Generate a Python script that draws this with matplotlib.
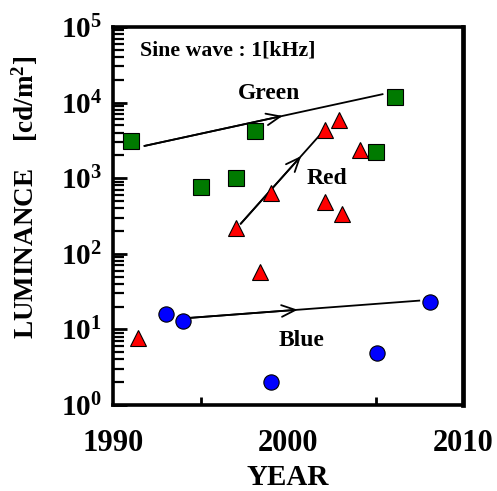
import math
import matplotlib
matplotlib.use("Agg")
import matplotlib.pyplot as plt
from matplotlib.ticker import LogLocator, NullFormatter, FixedLocator

plt.rcParams['font.family'] = ['Liberation Serif', 'DejaVu Serif']
plt.rcParams['font.weight'] = 'bold'
plt.rcParams['mathtext.fontset'] = 'custom'
plt.rcParams['mathtext.rm'] = 'Liberation Serif:bold'
plt.rcParams['mathtext.bf'] = 'Liberation Serif:bold'
plt.rcParams['mathtext.it'] = 'Liberation Serif:bold:italic'

# Data
green_year = [1991.0, 1995.0, 1997.0, 1998.1, 2005.0, 2006.1]
green_lum = [3100, 760, 1000, 4200, 2200, 11800]

red_year = [1991.4, 1997.0, 1999.0, 1998.4, 2002.1, 2002.9, 2004.1, 2002.1, 2003.1]
red_lum = [7.7, 220, 630, 57, 4350, 5900, 2350, 490, 335]

blue_year = [1993.0, 1994.0, 2008.1, 2005.1, 1999.0]
blue_lum = [15.9, 13.0, 23.0, 4.9, 2.0]

# Trend arrows: (start_year, start_lum, end_year, end_lum), arrowhead fraction
green_trend = (1991.8, 2670, 2005.4, 12900)
red_trend = (1997.3, 250, 2001.9, 3900)
blue_trend = (1994.4, 14.2, 2007.5, 24.0)
arrow_frac = [0.58, 0.75, 0.47]

x_ticks = [1990, 2000, 2010]
x_minor = [1995, 2005]
y_ticks = [1, 10, 100, 1000, 10000, 100000]
y_ticklabels = [r'$\mathbf{10^{%d}}$' % i for i in range(6)]

fig = plt.figure(figsize=(4.97, 4.91), dpi=100)
ax = fig.add_axes([0.2274, 0.1752, 0.7042, 0.7699])
ax.set_yscale('log')
ax.set_xlim(1990, 2010)
ax.set_ylim(1, 1e5)

# Trend lines with arrowheads along the line
for (x0, y0, x1, y1), f in zip([green_trend, red_trend, blue_trend], arrow_frac):
    ax.plot([x0, x1], [y0, y1], color='black', lw=1.3, zorder=2)
    xm = x0 + (x1 - x0) * f
    ym = 10 ** (math.log10(y0) + (math.log10(y1) - math.log10(y0)) * f)
    ax.annotate('', xy=(xm, ym), xytext=(x0, y0),
                arrowprops=dict(arrowstyle='->,head_length=1.0,head_width=0.42', color='black', lw=1.3,
                                shrinkA=0, shrinkB=0), zorder=2)

ax.plot(green_year, green_lum, ls='none', marker='s', ms=11, mfc='#007a00', mec='black', mew=0.8, zorder=3)
ax.plot(red_year, red_lum, ls='none', marker='^', ms=12, mfc='#ff0000', mec='black', mew=0.8, zorder=3)
ax.plot(blue_year, blue_lum, ls='none', marker='o', ms=11, mfc='#0000ff', mec='black', mew=0.8, zorder=3)

ax.text(1991.55, 4.9e4, 'Sine wave : 1[kHz]', fontsize=15.7, fontweight='bold', va='center', ha='left')
ax.text(1998.9, 1.3e4, 'Green', fontsize=17, fontweight='bold', va='center', ha='center')
ax.text(2002.2, 1.0e3, 'Red', fontsize=17, fontweight='bold', va='center', ha='center')
ax.text(2000.8, 7.2, 'Blue', fontsize=17, fontweight='bold', va='center', ha='center')

ax.set_xticks(x_ticks)
ax.set_xticklabels([str(t) for t in x_ticks], fontsize=22, fontweight='bold')
ax.xaxis.set_minor_locator(FixedLocator(x_minor))
ax.set_yticks(y_ticks)
ax.set_yticklabels(y_ticklabels, fontsize=21)
ax.yaxis.set_minor_locator(LogLocator(base=10, subs=range(2, 10), numticks=20))
ax.yaxis.set_minor_formatter(NullFormatter())

ax.tick_params(axis='x', which='major', direction='in', length=0, width=2, pad=17, top=False)
ax.tick_params(axis='x', which='minor', direction='in', length=6, width=2, top=False)
ax.tick_params(axis='y', which='major', direction='in', length=10, width=2, pad=8, right=False)
ax.tick_params(axis='y', which='minor', direction='in', length=8, width=1.6, right=False)

for s in ax.spines.values():
    s.set_linewidth(2.6)
ax.spines['right'].set_linewidth(3.4)

ax.set_xlabel('YEAR', fontsize=21, fontweight='bold')
ax.xaxis.set_label_coords(0.5, -0.155)
ax.set_ylabel(r'LUMINANCE    [cd/m$\mathbf{^{2}}$]', fontsize=19.5, fontweight='bold')
ax.yaxis.set_label_coords(-0.21, 0.55)

fig.savefig('out.png', dpi=100)
